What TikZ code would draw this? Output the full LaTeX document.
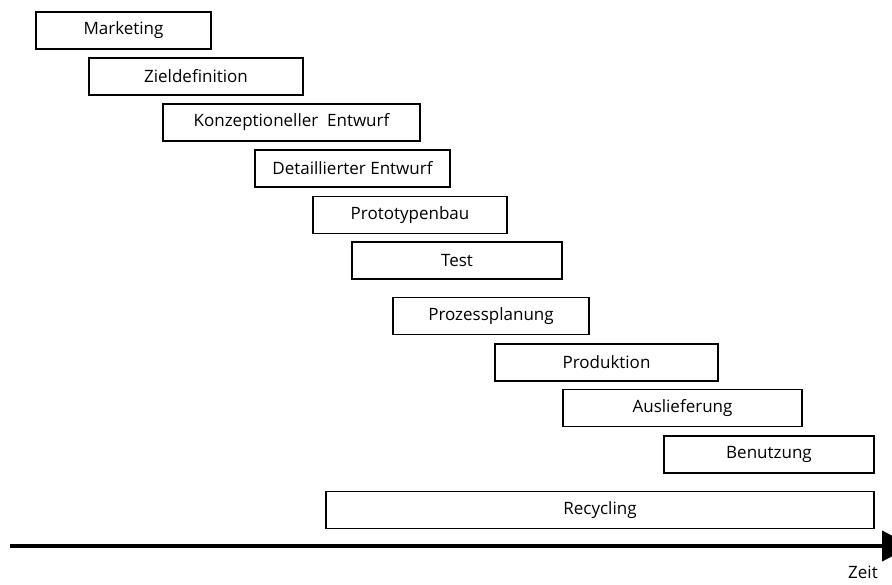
\documentclass[tikz,border=0pt]{standalone}
\usepackage{fontspec}
\setmainfont{Open Sans}
\usetikzlibrary{arrows.meta}
\tikzset{
  phase/.style={shape=rectangle, draw, line width=1.3pt, inner sep=0pt,
    minimum height=37pt, font=\fontsize{17}{20}\selectfont},
  zeitachse/.style={line width=4pt, -{Triangle[length=30pt 0 0,width=30pt 0 0]}}
}

\begin{document}
\begin{tikzpicture}[x=1pt, y=-1pt]
    \clip (0,0) rectangle (892,584);
    \node at (123.5, 30.5) (marketing) [phase, minimum width=175pt] {Marketing};
    \node at (196, 76.5) (ziel) [phase, minimum width=214pt] {Zieldefinition};
    \node at (291.5, 122.5) (konzept) [phase, minimum width=257pt] {Konzeptioneller\ \ Entwurf};
    \node at (352.5, 168.5) (detail) [phase, minimum width=195pt] {Detaillierter Entwurf};
    \node at (410, 215) (proto) [phase, minimum width=194pt] {Prototypenbau};
    \node at (457, 260.5) (test) [phase, minimum width=210pt] {Test};
    \node at (491, 316) (prozess) [phase, minimum width=196pt] {Prozessplanung};
    \node at (606.5, 362.5) (produktion) [phase, minimum width=223pt] {Produktion};
    \node at (682.5, 408) (auslieferung) [phase, minimum width=239pt] {Auslieferung};
    \node at (769, 454.5) (benutzung) [phase, minimum width=210pt] {Benutzung};
    \node at (600, 510) (recycling) [phase, minimum width=548pt] {Recycling};

    % Zeitachse, Spitze ragt ueber den Rand hinaus
    \coordinate (start) at (10, 546);
    \coordinate (ende) at (912, 546);
    \draw[zeitachse] (start) -- (ende);
    \node at (863, 572) (zeit) [font=\fontsize{17}{20}\selectfont] {Zeit};
\end{tikzpicture}
\end{document}
